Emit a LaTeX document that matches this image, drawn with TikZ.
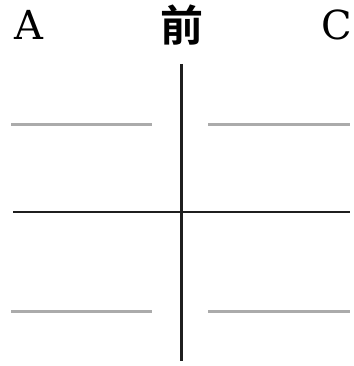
\documentclass[tikz,border=0pt]{standalone}
\usepackage{fontspec}
\setmainfont{DejaVu Serif}
\newfontfamily\cjkbold{Noto Sans CJK SC}[BoldFont={* Bold}]
\tikzset{
  label/.style={inner sep=0pt, anchor=center, font=\fontsize{40}{40}\selectfont},
  cjklabel/.style={inner sep=0pt, anchor=center, font=\fontsize{43}{43}\selectfont\cjkbold\bfseries},
  axis/.style={draw=black!88, line width=2.6pt},
  guide/.style={draw=black!33, line width=2.6pt}
}
\begin{document}
\begin{tikzpicture}[x=1pt,y=-1pt]
\useasboundingbox (0,0) rectangle (353,366);
\node[label] (A) at (29,25) {A};
\node[cjklabel] (Q) at (182,25) {前};
\node[label] (C) at (337,25) {C};
\coordinate (vt) at (181.5,64);
\coordinate (vb) at (181.5,361);
\coordinate (hl) at (13,212);
\coordinate (hr) at (350,212);
\draw[axis] (vt) -- (vb);
\draw[axis] (hl) -- (hr);
\coordinate (g1a) at (11,124.5); \coordinate (g1b) at (152,124.5);
\coordinate (g2a) at (208,124.5); \coordinate (g2b) at (350,124.5);
\coordinate (g3a) at (11,311.5); \coordinate (g3b) at (152,311.5);
\coordinate (g4a) at (208,311.5); \coordinate (g4b) at (350,311.5);
\draw[guide] (g1a) -- (g1b);
\draw[guide] (g2a) -- (g2b);
\draw[guide] (g3a) -- (g3b);
\draw[guide] (g4a) -- (g4b);
\end{tikzpicture}
\end{document}
